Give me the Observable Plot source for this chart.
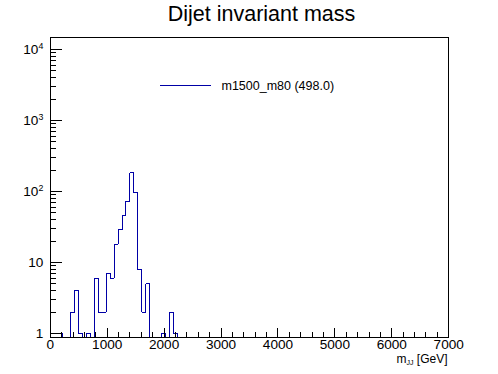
<!DOCTYPE html>
<html>
<head>
<meta charset="utf-8">
<script src="https://cdn.jsdelivr.net/npm/d3@7"></script>
<script src="https://cdn.jsdelivr.net/npm/@observablehq/plot@0.6"></script>
<style>
  html, body { margin: 0; padding: 0; background: #fff; }
  #chart svg { display: block; }
</style>
</head>
<body>
<div id="chart"></div>
<script>
// ---- data ----
const title = "Dijet invariant mass";
const legendLabel = "m1500_m80 (498.0)";
const xAxisMain = "m";
const xAxisSub = "JJ";
const xAxisUnit = " [GeV]";
const binWidth = 70; // GeV, 100 bins over 0-7000
// bin contents starting at 0 GeV (bins beyond the list are empty)
const counts = [1, 1, 1, 0, 0, 2, 4, 1, 0, 1, 0, 6, 2, 2, 7, 6, 18, 29, 46, 73, 183, 96, 8, 2, 5, 0, 0, 0, 1, 0, 2, 1, 0];
const xTicks = [0, 1000, 2000, 3000, 4000, 5000, 6000, 7000];
const xMinorTicks = [200, 400, 600, 800, 1200, 1400, 1600, 1800, 2200, 2400, 2600, 2800, 3200, 3400, 3600, 3800, 4200, 4400, 4600, 4800, 5200, 5400, 5600, 5800, 6200, 6400, 6600, 6800];
const yTicks = [1, 10, 100, 1000, 10000];
const yMinorTicks = [2,3,4,5,6,7,8,9, 20,30,40,50,60,70,80,90, 200,300,400,500,600,700,800,900, 2000,3000,4000,5000,6000,7000,8000,9000];
const yDomain = [0.89, 14560];
const xDomain = [0, 7000];
const lineColor = "#0000a6";

// ---- layout ----
const W = 498, H = 374;
const mL = 49.8, mR = 49.8, mT = 37.4, mB = 37.4;
const fw = W - mL - mR, fh = H - mT - mB;
const font = "'Liberation Sans', Arial, Helvetica, sans-serif";

// histogram outline (empty bins drop to the bottom of the log axis)
const outline = [{x: 0, y: yDomain[0]}];
counts.forEach((c, i) => {
  const v = c > 0 ? c : yDomain[0];
  outline.push({x: i * binWidth, y: v}, {x: (i + 1) * binWidth, y: v});
});
outline.push({x: counts.length * binWidth, y: yDomain[0]});

const chart = Plot.plot({
  width: W,
  height: H,
  marginLeft: mL,
  marginRight: mR,
  marginTop: mT,
  marginBottom: mB,
  style: {fontFamily: font, fontSize: "13.6px", background: "white", color: "black", overflow: "visible"},
  x: {domain: xDomain, ticks: xTicks, tickSize: 0, tickPadding: 2, tickFormat: d => String(d), label: null},
  y: {type: "log", domain: yDomain, ticks: yTicks, tickSize: 0, tickPadding: 7,
      tickFormat: d => d < 100 ? String(d) : "10^" + Math.round(Math.log10(d)), label: null},
  marks: [
    Plot.line(outline, {x: "x", y: "y", stroke: lineColor, strokeWidth: 1, curve: "linear", shapeRendering: "crispEdges"}),
    Plot.tickX(xMinorTicks, {x: d => d, insetTop: fh - 4.5, stroke: "black", shapeRendering: "crispEdges"}),
    Plot.tickX(xTicks, {x: d => d, insetTop: fh - 9, stroke: "black", shapeRendering: "crispEdges"}),
    Plot.tickY(yMinorTicks, {y: d => d, insetRight: fw - 6, stroke: "black", shapeRendering: "crispEdges"}),
    Plot.tickY(yTicks, {y: d => d, insetRight: fw - 12, stroke: "black", shapeRendering: "crispEdges"}),
    Plot.frame({stroke: "black", shapeRendering: "crispEdges"})
  ]
});

document.getElementById("chart").append(chart);

const svg = d3.select(chart.tagName.toLowerCase() === "svg" ? chart : chart.querySelector("svg"));

// superscripts in y tick labels
svg.selectAll("text").each(function() {
  const t = this.textContent;
  const m = /^10\^(\d+)$/.exec(t);
  if (m) {
    this.textContent = "10";
    d3.select(this).append("tspan").attr("dy", "-0.5em").attr("font-size", "0.65em").text(m[1]);
  }
});

// title
svg.append("text")
  .attr("x", 261.5).attr("y", 21)
  .attr("text-anchor", "middle")
  .attr("font-family", font).attr("font-size", 21.5)
  .attr("fill", "black")
  .text(title);

// legend
const lg = svg.append("g");
lg.append("line").attr("x1", 160).attr("x2", 211).attr("y1", 85.5).attr("y2", 85.5)
  .attr("stroke", lineColor).attr("stroke-width", 1).attr("shape-rendering", "crispEdges");
lg.append("text").attr("x", 221.5).attr("y", 89.5)
  .attr("text-anchor", "start")
  .attr("font-family", font).attr("font-size", 12.5).attr("fill", "black")
  .text(legendLabel);

// x axis title
const xt = svg.append("text")
  .attr("x", 447.5).attr("y", 362.5)
  .attr("text-anchor", "end")
  .attr("font-family", font).attr("font-size", 12).attr("fill", "black");
xt.append("tspan").text(xAxisMain);
xt.append("tspan").attr("font-size", 7).attr("dy", 2).text(xAxisSub);
xt.append("tspan").attr("dy", -2).text(xAxisUnit);
</script>
</body>
</html>
